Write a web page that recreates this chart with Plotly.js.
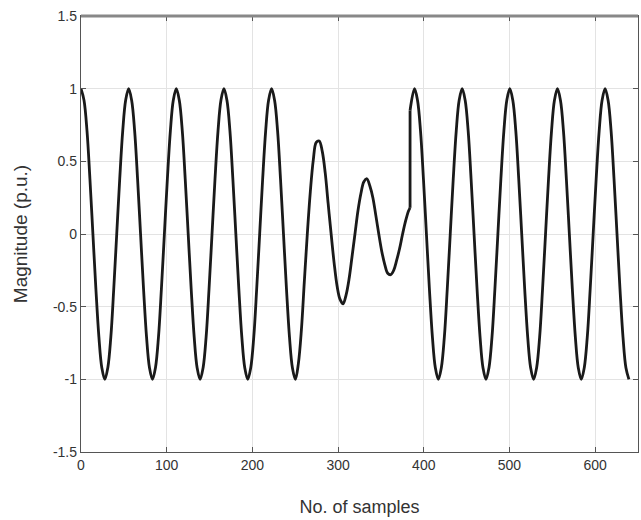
<!DOCTYPE html>
<html>
<head>
<meta charset="utf-8">
<script src="https://cdn.plot.ly/plotly-3.0.1.min.js"></script>
<style>html,body{margin:0;padding:0;background:#fff;}#chart{width:641px;height:520px;}</style>
</head>
<body>
<div id="chart"></div>
<script>
// Waveform before the recovery jump (normal cycles, then the sag)
const samplesA = [0,3.5,7,10.4,13.9,17.4,20.9,24.3,27.8,31.3,34.8,38.2,41.7,45.2,48.7,52.1,
  55.6,59.1,62.6,66,69.5,73,76.5,79.9,83.4,86.9,90.4,93.8,97.3,100.8,104.3,107.7,
  111.2,114.7,118.2,121.6,125.1,128.6,132.1,135.5,139,142.5,146,149.4,152.9,156.4,159.9,163.3,
  166.8,170.3,173.8,177.2,180.7,184.2,187.7,191.1,194.6,198.1,201.6,205,208.5,212,215.5,218.9,
  222.4,225.9,229.4,232.8,236.3,239.8,243.3,246.7,
  250.2,253.7,257.2,260.6,264.1,267.6,271.1,274.5,278,281.5,285,288.4,291.9,295.4,298.9,302.3,
  305.8,309.3,312.8,316.2,319.7,323.2,326.7,330.1,333.6,337.1,340.6,344,347.5,351,354.5,357.9,
  361.4,364.9,368.4,371.8,375.3,378.8,382.3,384];
const magA = [1,0.92,0.71,0.38,0,-0.38,-0.71,-0.92,-1,-0.92,-0.71,-0.38,0,0.38,0.71,0.92,
  1,0.92,0.71,0.38,0,-0.38,-0.71,-0.92,-1,-0.92,-0.71,-0.38,0,0.38,0.71,0.92,
  1,0.92,0.71,0.38,0,-0.38,-0.71,-0.92,-1,-0.92,-0.71,-0.38,0,0.38,0.71,0.92,
  1,0.92,0.71,0.38,0,-0.38,-0.71,-0.92,-1,-0.92,-0.71,-0.38,0,0.38,0.71,0.92,
  1,0.92,0.71,0.38,0,-0.38,-0.71,-0.92,
  -1,-0.89,-0.66,-0.33,0,0.29,0.51,0.63,0.64,0.57,0.42,0.21,0,-0.2,-0.36,-0.45,
  -0.48,-0.42,-0.31,-0.16,0,0.16,0.28,0.36,0.38,0.33,0.25,0.13,0,-0.12,-0.21,-0.27,
  -0.28,-0.25,-0.18,-0.1,0,0.09,0.16,0.18];
// Vertical jump at recovery
const samplesJump = [384,384];
const magJump = [0.18,0.85];
// Waveform after recovery
const samplesB = [384,389.2,392.7,396.2,399.6,403.1,406.6,410.1,413.5,417,420.5,424,427.4,430.9,434.4,437.9,441.3,
  444.8,448.3,451.8,455.2,458.7,462.2,465.7,469.1,472.6,476.1,479.6,483,486.5,490,493.5,496.9,
  500.4,503.9,507.4,510.8,514.3,517.8,521.3,524.7,528.2,531.7,535.2,538.6,542.1,545.6,549.1,552.5,
  556,559.5,563,566.4,569.9,573.4,576.9,580.3,583.8,587.3,590.8,594.2,597.7,601.2,604.7,608.1,
  611.6,615.1,618.6,622,625.5,629,632.5,635.9,639.4];
const magB = [0.85,1,0.92,0.71,0.38,0,-0.38,-0.71,-0.92,-1,-0.92,-0.71,-0.38,0,0.38,0.71,0.92,
  1,0.92,0.71,0.38,0,-0.38,-0.71,-0.92,-1,-0.92,-0.71,-0.38,0,0.38,0.71,0.92,
  1,0.92,0.71,0.38,0,-0.38,-0.71,-0.92,-1,-0.92,-0.71,-0.38,0,0.38,0.71,0.92,
  1,0.92,0.71,0.38,0,-0.38,-0.71,-0.92,-1,-0.92,-0.71,-0.38,0,0.38,0.71,0.92,
  1,0.92,0.71,0.38,0,-0.38,-0.71,-0.92,-1];
const xTicks = [0,100,200,300,400,500,600];
const yTicks = [-1.5,-1,-0.5,0,0.5,1,1.5];
const yTickText = ['-1.5','-1','-0.5','0','0.5','1','1.5'];

const FONT = 'Liberation Sans, Arial, sans-serif';
const lineStyle = {color:'#1a1a1a', width:2.8};
const traces = [
  {x:samplesA, y:magA, mode:'lines', line:Object.assign({shape:'spline', smoothing:1}, lineStyle), showlegend:false, hoverinfo:'skip'},
  {x:samplesJump, y:magJump, mode:'lines', line:Object.assign({shape:'linear'}, lineStyle), showlegend:false, hoverinfo:'skip'},
  {x:samplesB, y:magB, mode:'lines', line:Object.assign({shape:'spline', smoothing:1}, lineStyle), showlegend:false, hoverinfo:'skip'}
];
const axisCommon = {
  showline:true, linecolor:'#555', linewidth:1.2, mirror:'allticks',
  ticks:'inside', ticklen:5, tickcolor:'#555', tickwidth:1,
  showgrid:true, gridcolor:'#e3e3e3', gridwidth:1, zeroline:false,
  tickfont:{family:FONT, size:14, color:'#333'}
};
const layout = {
  width:641, height:520,
  margin:{l:81, r:3, t:16, b:68},
  paper_bgcolor:'#fff', plot_bgcolor:'#fff',
  xaxis:Object.assign({}, axisCommon, {range:[0,650], tickvals:xTicks,
    title:{text:'No. of samples', font:{family:FONT, size:18, color:'#333'}, standoff:28}}),
  yaxis:Object.assign({}, axisCommon, {range:[-1.5,1.5], tickvals:yTicks, ticktext:yTickText,
    title:{text:'Magnitude (p.u.)', font:{family:FONT, size:19, color:'#333'}, standoff:20}}),
  shapes:[{type:'line', xref:'paper', yref:'paper', x0:0, x1:1, y0:1, y1:1, line:{color:'#888', width:3}}]
};
Plotly.newPlot('chart', traces, layout, {displayModeBar:false, staticPlot:true});
</script>
</body>
</html>
